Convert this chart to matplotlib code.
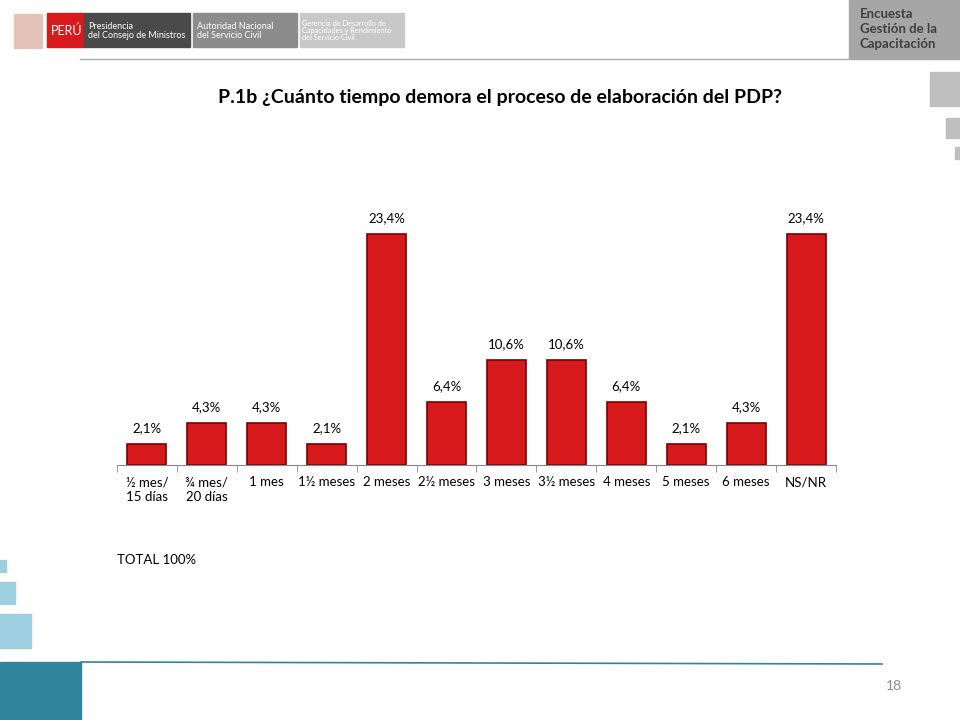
import matplotlib
matplotlib.use("Agg")
import matplotlib.pyplot as plt
from matplotlib.patches import Rectangle

plt.rcParams["font.family"] = "Lato"

categories = ["½ mes/\n15 días", "¾ mes/\n20 días", "1 mes", "1½ meses", "2 meses",
              "2½ meses", "3 meses", "3½ meses", "4 meses", "5 meses", "6 meses", "NS/NR"]
values = [2.1, 4.3, 4.3, 2.1, 23.4, 6.4, 10.6, 10.6, 6.4, 2.1, 4.3, 23.4]
labels = ["2,1%", "4,3%", "4,3%", "2,1%", "23,4%", "6,4%", "10,6%", "10,6%",
          "6,4%", "2,1%", "4,3%", "23,4%"]

W, H = 960, 720
fig = plt.figure(figsize=(9.6, 7.2), dpi=100)

def px(x, y, w, h):
    # pixel box (top-left origin) -> figure fraction
    return [x / W, 1 - (y + h) / H, w / W, h / H]

def box(x, y, w, h, color):
    fig.patches.append(Rectangle((x / W, 1 - (y + h) / H), w / W, h / H,
                                 transform=fig.transFigure, color=color, zorder=0))

# header
box(47, 13, 37, 34, "#d7191c")
fig.text(51 / W, 1 - 31 / H, "PERÚ", color="white", fontsize=9, va="center")
box(84, 13, 106, 34, "#4a4a4a")
fig.text(88 / W, 1 - 31 / H, "Presidencia\ndel Consejo de Ministros", color="white", fontsize=6.5, va="center", linespacing=1.0)
box(193, 13, 104, 34, "#8c8c8c")
fig.text(197 / W, 1 - 31 / H, "Autoridad Nacional\ndel Servicio Civil", color="white", fontsize=6.5, va="center", linespacing=1.0)
box(300, 13, 104, 34, "#c8c8c8")
fig.text(302 / W, 1 - 30 / H, "Gerencia de Desarrollo de\nCapacidades y Rendimiento\ndel Servicio Civil", color="white", fontsize=5.3, va="center", linespacing=1.0)
box(14, 14, 28, 34, "#e3c2b8")
fig.add_artist(plt.Line2D([80 / W, 848 / W], [1 - 59 / H] * 2, color="#aaaaaa", lw=1))
box(849, 0, 111, 59, "#a6a6a6")
fig.text(860 / W, 1 - 29 / H, "Encuesta\nGestión de la\nCapacitación", color="#404040", fontsize=9.5,
         fontweight="bold", va="center", linespacing=1.25)
box(930, 72, 30, 34, "#bfbfbf")
box(946, 118, 14, 20, "#bfbfbf")
box(955, 147, 5, 12, "#bfbfbf")

# left decor and footer
box(0, 560, 6, 12, "#9dcfe0")
box(0, 582, 15, 22, "#9dcfe0")
box(0, 614, 31, 34, "#9dcfe0")
box(0, 662, 81, 58, "#31849b")
fig.add_artist(plt.Line2D([81 / W, 882 / W], [1 - 662 / H, 1 - 664 / H], color="#31849b", lw=1.2))
fig.text(902 / W, 1 - 686 / H, "18", color="#8c8c8c", fontsize=10, ha="right", va="center")

fig.text(500 / W, 1 - 97 / H, "P.1b ¿Cuánto tiempo demora el proceso de elaboración del PDP?",
         ha="center", va="center", fontsize=14, fontweight="bold", color="#000000")
fig.text(117 / W, 1 - 560 / H, "TOTAL 100%", fontsize=9.5, va="center", color="#000000")

ax = fig.add_axes(px(117, 200, 719, 265))
x = range(len(values))
ax.bar(x, values, width=0.65, color="#d7191c", edgecolor="#7a0000", linewidth=1.2, zorder=2)
for xi, v, lab in zip(x, values, labels):
    ax.text(xi, v + 1.0, lab, ha="center", va="bottom", fontsize=9.5, color="#000000")
ax.set_xlim(-0.5, len(values) - 0.5)
ax.set_ylim(0, 23.4 * 265 / 231)
ax.set_yticks([])
ax.set_xticks(list(x))
ax.set_xticklabels(categories, fontsize=9.5, linespacing=1.3)
ax.set_xticks([i - 0.5 for i in range(len(values) + 1)], minor=True)
ax.tick_params(axis="x", which="major", length=0, pad=8)
ax.tick_params(axis="x", which="minor", length=5, color="#888888")
for s in ["top", "right", "left"]:
    ax.spines[s].set_visible(False)
ax.spines["bottom"].set_color("#888888")
ax.patch.set_alpha(0)

fig.savefig("out.png", dpi=100)
